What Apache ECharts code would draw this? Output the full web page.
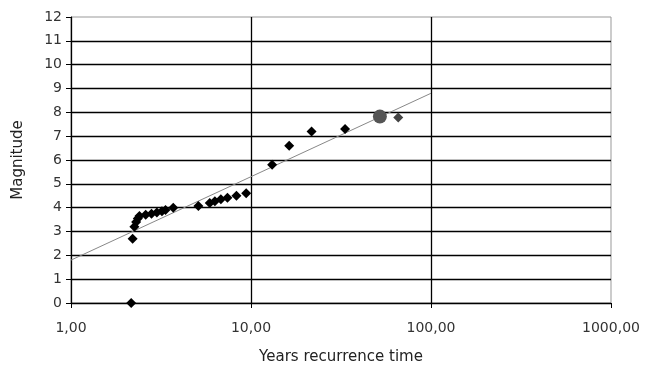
<!DOCTYPE html>
<html>
<head>
<meta charset="utf-8">
<script src="https://cdn.jsdelivr.net/npm/echarts@6/dist/echarts.min.js"></script>
<style>html,body{margin:0;padding:0;background:#fff}#c{width:648px;height:371px}</style>
</head>
<body>
<div id="c"></div>
<script>
var years = [2.16, 2.2, 2.25, 2.3, 2.35, 2.4, 2.6, 2.8, 3.0, 3.2, 3.35, 3.7, 5.1, 5.9, 6.3, 6.8, 7.4, 8.3, 9.4, 13.1, 16.3, 21.7, 33.3];
var magnitudes = [0, 2.7, 3.2, 3.4, 3.55, 3.65, 3.7, 3.75, 3.8, 3.85, 3.9, 4.0, 4.07, 4.2, 4.27, 4.35, 4.42, 4.5, 4.6, 5.8, 6.6, 7.2, 7.3];
var highlightYear = [52];
var highlightMag = [7.82];
var lastYear = [65.8];
var lastMag = [7.78];
var trendYears = [1, 100];
var trendMags = [1.8, 8.8];
var xTicks = [1, 10, 100, 1000];
var yMin = 0, yMax = 12;

function zip(a, b) { return a.map(function (v, i) { return [v, b[i]]; }); }

var chart = echarts.init(document.getElementById('c'), null, { renderer: 'canvas' });
var font = 'DejaVu Sans';
chart.setOption({
  animation: false,
  backgroundColor: '#fff',
  grid: { left: 71, right: 37, top: 17, bottom: 68, show: true, borderColor: '#999', borderWidth: 1, backgroundColor: 'transparent' },
  xAxis: {
    type: 'log', logBase: 10, min: xTicks[0], max: xTicks[xTicks.length - 1],
    name: 'Years recurrence time', nameLocation: 'middle', nameGap: 47,
    nameTextStyle: { fontFamily: font, fontSize: 15, color: '#222' },
    axisLine: { show: true, lineStyle: { color: '#000', width: 1 } },
    axisTick: { show: true, inside: false, length: 5, lineStyle: { color: '#000' } },
    axisLabel: { fontFamily: font, fontSize: 14, color: '#333', margin: 18,
      formatter: function (v) { return v.toFixed(2).replace('.', ','); } },
    splitLine: { show: true, showMaxLine: false, lineStyle: { color: '#000', width: 1.3 } },
    minorTick: { show: false }, minorSplitLine: { show: false }
  },
  yAxis: {
    type: 'value', min: yMin, max: yMax, interval: 1,
    name: 'Magnitude', nameLocation: 'middle', nameGap: 45, nameRotate: 90,
    nameTextStyle: { fontFamily: font, fontSize: 15, color: '#222' },
    axisLine: { show: true, lineStyle: { color: '#000', width: 1 } },
    axisTick: { show: true, inside: false, length: 5, lineStyle: { color: '#000' } },
    axisLabel: { fontFamily: font, fontSize: 14, color: '#333', margin: 9 },
    splitLine: { show: true, showMaxLine: false, lineStyle: { color: '#000', width: 1.3 } }
  },
  series: [
    { type: 'line', data: zip(trendYears, trendMags), symbol: 'none', z: 1,
      lineStyle: { color: '#888', width: 1 } },
    { type: 'scatter', data: zip(years, magnitudes), symbol: 'diamond', symbolSize: 10, z: 3,
      itemStyle: { color: '#000', opacity: 1 } },
    { type: 'scatter', data: zip(highlightYear, highlightMag), symbol: 'circle', symbolSize: 14, z: 3,
      itemStyle: { color: '#555', opacity: 1 } },
    { type: 'scatter', data: zip(lastYear, lastMag), symbol: 'diamond', symbolSize: 10, z: 3,
      itemStyle: { color: '#444', opacity: 1 } }
  ]
});
</script>
</body>
</html>
